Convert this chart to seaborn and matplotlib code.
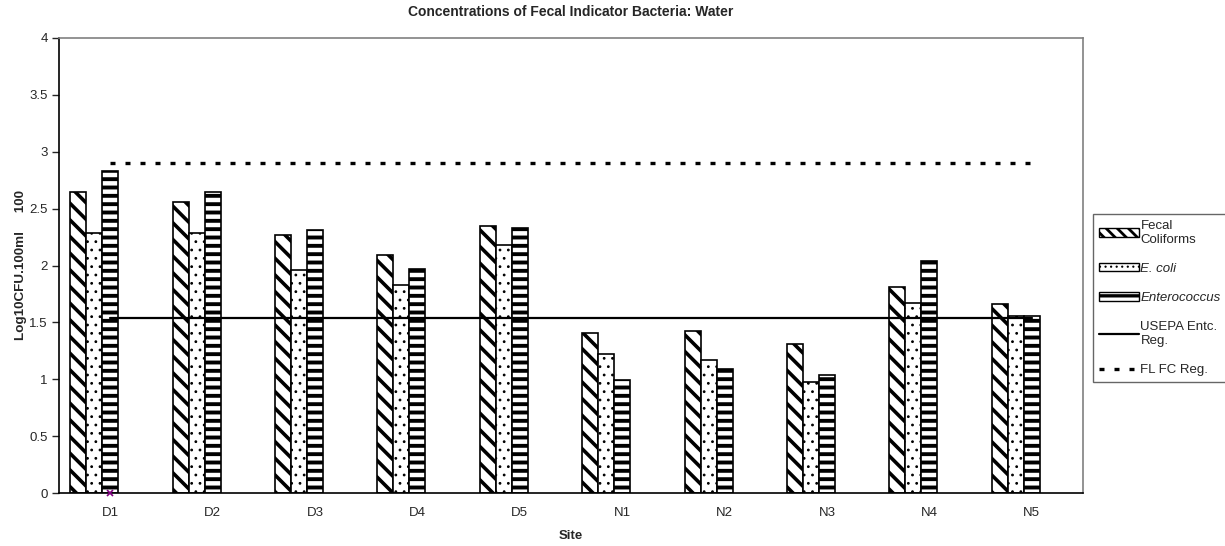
import matplotlib
matplotlib.use('Agg')
import matplotlib.pyplot as plt
from matplotlib.patches import Patch
from matplotlib.lines import Line2D
import seaborn as sns
import pandas as pd
import numpy as np

sns.set_style('white')
plt.rcParams['font.family'] = ['Liberation Sans', 'DejaVu Sans']

# Data (log10 CFU / 100 ml)
sites = ['D1', 'D2', 'D3', 'D4', 'D5', 'N1', 'N2', 'N3', 'N4', 'N5']
fecal_coliforms = [2.65, 2.56, 2.27, 2.09, 2.35, 1.41, 1.42, 1.31, 1.81, 1.66]
e_coli = [2.29, 2.29, 1.96, 1.83, 2.18, 1.22, 1.17, 0.98, 1.67, 1.56]
enterococcus = [2.83, 2.65, 2.31, 1.97, 2.33, 0.99, 1.09, 1.04, 2.04, 1.56]
usepa_entc_reg = [1.54] * len(sites)
fl_fc_reg = [2.90] * len(sites)
stray_marker = [0.0]  # purple x at D1

series = ['Fecal Coliforms', 'E. coli', 'Enterococcus']
# two empty series keep Excel's 5-slot bar spacing
slots = series + ['_empty1', '_empty2']

df = pd.DataFrame({
    'Site': sites * 3,
    'Series': np.repeat(series, len(sites)),
    'Value': fecal_coliforms + e_coli + enterococcus,
})

fig = plt.figure(figsize=(12.25, 5.46), dpi=100)
ax = fig.add_axes([59 / 1225, 53 / 546, (1083 - 59) / 1225, (493 - 38) / 546])

sns.barplot(data=df, x='Site', y='Value', hue='Series', hue_order=slots,
            order=sites, palette=['white'] * 5, edgecolor='black',
            linewidth=1.2, width=0.78, errorbar=None, legend=False, ax=ax)

hatches = {'Fecal Coliforms': ('\\\\', 2.6), 'E. coli': ('..', 0.8),
           'Enterococcus': ('--', 2.8)}
for cont, name in zip(ax.containers, series):
    h, lw = hatches[name]
    for p in cont:
        p.set_hatch(h)
        if hasattr(p, 'set_hatch_linewidth'):
            p.set_hatch_linewidth(lw)

x = np.arange(len(sites))
ax.plot(x, usepa_entc_reg, color='black', lw=1.6, zorder=5)
ax.plot(x, fl_fc_reg, color='black', lw=2.4, linestyle=(0, (1.5, 3)),
        dash_capstyle='butt', zorder=5)
ax.plot([0], stray_marker, marker='x', color='#800080', ms=5, mew=1.2,
        linestyle='none', zorder=6, clip_on=False)

ax.set_xlim(-0.5, len(sites) - 0.5)
ax.set_ylim(0, 4)
ax.set_yticks(np.arange(0, 4.01, 0.5))
ax.set_yticklabels(['0', '0.5', '1', '1.5', '2', '2.5', '3', '3.5', '4'])
ax.set_xticks(x)
ax.set_xticklabels(sites)
ax.set_xticks(np.arange(-0.5, len(sites), 1), minor=True)
ax.tick_params(axis='x', which='major', length=0, pad=10, labelsize=9.5)
ax.tick_params(axis='x', which='minor', length=9, direction='inout', width=1)
ax.tick_params(axis='y', length=5, direction='out', width=1, labelsize=9.5,
               left=True, pad=3)

for side in ['left', 'bottom']:
    ax.spines[side].set_color('black')
    ax.spines[side].set_linewidth(1.2)
for side in ['top', 'right']:
    ax.spines[side].set_color('#808080')
    ax.spines[side].set_linewidth(1.2)

ax.set_title('Concentrations of Fecal Indicator Bacteria: Water',
             fontsize=10, fontweight='bold', pad=16)
ax.set_xlabel('Site', fontsize=9.5, fontweight='bold', labelpad=8)
ax.set_ylabel('Log10CFU.100ml     100', fontsize=9.7, fontweight='bold',
              labelpad=2)

handles = [
    Patch(facecolor='white', edgecolor='black', hatch='\\\\\\'),
    Patch(facecolor='white', edgecolor='black', hatch='...'),
    Patch(facecolor='white', edgecolor='black', hatch='--'),
    Line2D([], [], color='black', lw=1.6),
    Line2D([], [], color='black', lw=2.4, linestyle=(0, (1.5, 3)),
           dash_capstyle='butt'),
]
labels = ['Fecal\nColiforms', 'E. coli', 'Enterococcus',
          'USEPA Entc.\nReg.', 'FL FC Reg.']
leg = fig.legend(handles, labels, loc='upper left',
                 bbox_to_anchor=(1093 / 1225, 1 - 214 / 546),
                 fontsize=9.5, frameon=True, fancybox=False,
                 edgecolor='#404040',
                 handlelength=3.0, handleheight=0.6, handletextpad=0.15,
                 labelspacing=1.3, borderpad=0.45, borderaxespad=0)
leg.get_frame().set_linewidth(1.0)
leg.get_texts()[1].set_style('italic')
leg.get_texts()[2].set_style('italic')
for hd, lw in zip(leg.legend_handles[:3], [2.0, 0.8, 2.4]):
    if hasattr(hd, 'set_hatch_linewidth'):
        hd.set_hatch_linewidth(lw)

fig.savefig('out.png', dpi=100)
